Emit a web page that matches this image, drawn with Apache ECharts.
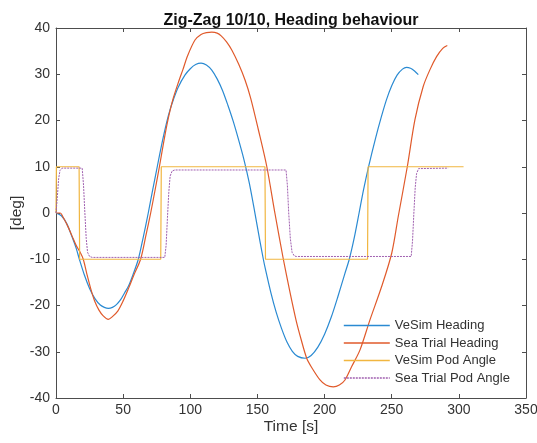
<!DOCTYPE html>
<html>
<head>
<meta charset="utf-8">
<script src="https://cdn.jsdelivr.net/npm/echarts@6/dist/echarts.min.js"></script>
<style>html,body{margin:0;padding:0;background:#fff}#c{width:537px;height:443px}</style>
</head>
<body>
<div id="c"></div>
<script>
var xTicks = [0, 50, 100, 150, 200, 250, 300, 350];
var yTicks = [-40, -30, -20, -10, 0, 10, 20, 30, 40];

var vesimHeadingT = [0,4,8,12,15,17.4,21,25,29,33,36,39,42,45,48,51,54,57,61.3,65,68.7,72,75.4,79,82.4,85,87.4,91,96,100,104,108,112,116,120,124,128,132,136,140,144,148,152,154.4,156,160,164,168,172,176,180,185.5,190,195,200,205,210,215,218.4,222,225.7,229,233,238,242,246,250,254,258,261,264,267,269.8];
var vesimHeadingV = [0,-0.6,-2.3,-5.2,-7.6,-10,-13.3,-16.3,-18.5,-19.9,-20.4,-20.6,-20.4,-19.8,-18.8,-17.3,-15.8,-13.6,-10,-5.2,0,5.0,10,15.2,19.6,22.4,24.5,27.2,29.8,31.2,32.1,32.4,32.0,30.9,29.0,26.5,23.3,19.8,15.8,11.5,6.4,0.2,-6.3,-10,-12.2,-17.2,-21.5,-25.0,-27.9,-29.9,-31.0,-31.4,-30.8,-29.0,-26.2,-22.5,-18.0,-13.2,-10,-5.5,0,5.0,10.3,16.2,20.5,24.4,27.5,29.8,31.1,31.5,31.3,30.7,29.9];

var seaHeadingT = [0,3,6,9,12,15,18,20.3,23,26,29,32,35,39,42,46,50,54,58,63,67,70.5,74,77,80,82.9,87,91.8,94.5,98,103.5,108,112,116,120,123,127,131,136,140.7,145,150.7,157,163,169.3,174,178.7,182.5,186.7,190.4,196.6,201,206.5,211,215.2,220.2,226.4,233.8,242.5,250,254.9,261.6,267.3,273.5,278.5,283.4,288,291.4];
var seaHeadingV = [0,0,-1.3,-3.0,-5.0,-7.0,-8.5,-10,-13.2,-16.5,-19.2,-21.0,-22.2,-23.0,-22.4,-21.2,-19.0,-16.3,-13.4,-10,-4.8,0,5.3,10,15.0,19.5,24.5,28.8,31.0,34.0,37.4,38.6,39.0,39.1,38.9,38.3,37.0,35.2,32.2,28.8,24.8,18,10,0,-10,-16.8,-23.1,-27.3,-31.4,-33.4,-36.1,-37.2,-37.6,-37.2,-36.1,-33.2,-29.6,-23.1,-15.9,-8.7,-0.7,10,20.2,27.4,31,33.8,35.6,36.2];

var vesimPodT = [0,0.3,17.2,17.6,78,78.4,155.6,156,232,232.4,303.5];
var vesimPodV = [0,10,10,-10,-10,10,10,-10,-10,10,10];

var seaPodT = [0,1,2,3,4.5,19.5,20.5,21.5,22.5,23.5,25,27,81,82,83,84,85,86.5,88.5,171.3,172.3,173.3,174.5,175.8,177.5,179,264.5,265.5,266.5,267.5,268.5,270,292];
var seaPodV = [0,3.5,7.5,9.2,9.7,9.7,6,0,-5.5,-8.5,-9.4,-9.6,-9.6,-7,-1,4.5,8,9.1,9.3,9.3,6,0,-5.5,-8.5,-9.3,-9.4,-9.4,-6,0,5.5,8.5,9.6,9.7];

var seriesNames = ['VeSim Heading', 'Sea Trial Heading', 'VeSim Pod Angle', 'Sea Trial Pod Angle'];
var seriesColors = ['#2a8ad2', '#e05a2b', '#f1b640', '#a060b0'];

function zip(t, v) { return t.map(function (x, i) { return [x, v[i]]; }); }

var axisColor = '#4d4d4d';
var textColor = '#333333';
var font = 'Liberation Sans, Arial, Helvetica, sans-serif';

function xAxisDef(pos, show) {
  return {
    type: 'value', position: pos, min: xTicks[0], max: xTicks[xTicks.length - 1], interval: 50,
    axisLine: { show: true, onZero: false, lineStyle: { color: axisColor, width: 1 } },
    axisTick: { show: true, inside: true, length: 4, lineStyle: { color: axisColor } },
    axisLabel: { show: show, color: textColor, fontSize: 14, fontFamily: font, margin: 5 },
    splitLine: { show: false },
    name: show ? 'Time [s]' : '', nameLocation: 'middle', nameGap: 21, nameMoveOverlap: false,
    nameTextStyle: { color: textColor, fontSize: 15.5, fontFamily: font }
  };
}
function yAxisDef(pos, show) {
  return {
    type: 'value', position: pos, min: yTicks[0], max: yTicks[yTicks.length - 1], interval: 10,
    axisLine: { show: true, onZero: false, lineStyle: { color: axisColor, width: 1 } },
    axisTick: { show: true, inside: true, length: 4, lineStyle: { color: axisColor } },
    axisLabel: { show: show, color: textColor, fontSize: 14, fontFamily: font, margin: 6 },
    splitLine: { show: false },
    name: show ? '[deg]' : '', nameLocation: 'middle', nameGap: 31, nameRotate: 90, nameMoveOverlap: false,
    nameTextStyle: { color: textColor, fontSize: 15.5, fontFamily: font }
  };
}

var chart = echarts.init(document.getElementById('c'), null, { renderer: 'canvas' });
chart.setOption({
  animation: false,
  backgroundColor: '#ffffff',
  title: {
    text: 'Zig-Zag 10/10, Heading behaviour', left: 286, top: 8, textAlign: 'center',
    textStyle: { fontSize: 16, fontWeight: 'bold', color: '#111', fontFamily: font }
  },
  grid: { left: 56, right: 11, top: 28, bottom: 45, containLabel: false, outerBoundsMode: 'none' },
  xAxis: [xAxisDef('bottom', true), xAxisDef('top', false)],
  yAxis: [yAxisDef('left', true), yAxisDef('right', false)],
  legend: {
    orient: 'vertical', left: 338, top: 314, itemWidth: 46, itemHeight: 12, itemGap: 4.5,
    textStyle: { color: textColor, fontSize: 13, fontFamily: font },
    itemStyle: { opacity: 0 },
    data: seriesNames.map(function (n, i) {
      return { name: n, lineStyle: { color: seriesColors[i], width: 1.6, opacity: 1, type: i === 3 ? [2, 1] : 'solid' } };
    })
  },
  series: [
    { name: seriesNames[0], type: 'line', data: zip(vesimHeadingT, vesimHeadingV), symbol: 'none', smooth: 0.3,
      lineStyle: { color: seriesColors[0], width: 1.2 }, itemStyle: { color: seriesColors[0] } },
    { name: seriesNames[1], type: 'line', data: zip(seaHeadingT, seaHeadingV), symbol: 'none', smooth: 0.3,
      lineStyle: { color: seriesColors[1], width: 1.2 }, itemStyle: { color: seriesColors[1] } },
    { name: seriesNames[2], type: 'line', data: zip(vesimPodT, vesimPodV), symbol: 'none',
      lineStyle: { color: seriesColors[2], width: 1.2 }, itemStyle: { color: seriesColors[2] } },
    { name: seriesNames[3], type: 'line', data: zip(seaPodT, seaPodV), symbol: 'none',
      lineStyle: { color: seriesColors[3], width: 1, type: [2, 1] }, itemStyle: { color: seriesColors[3] } }
  ]
});
</script>
</body>
</html>
